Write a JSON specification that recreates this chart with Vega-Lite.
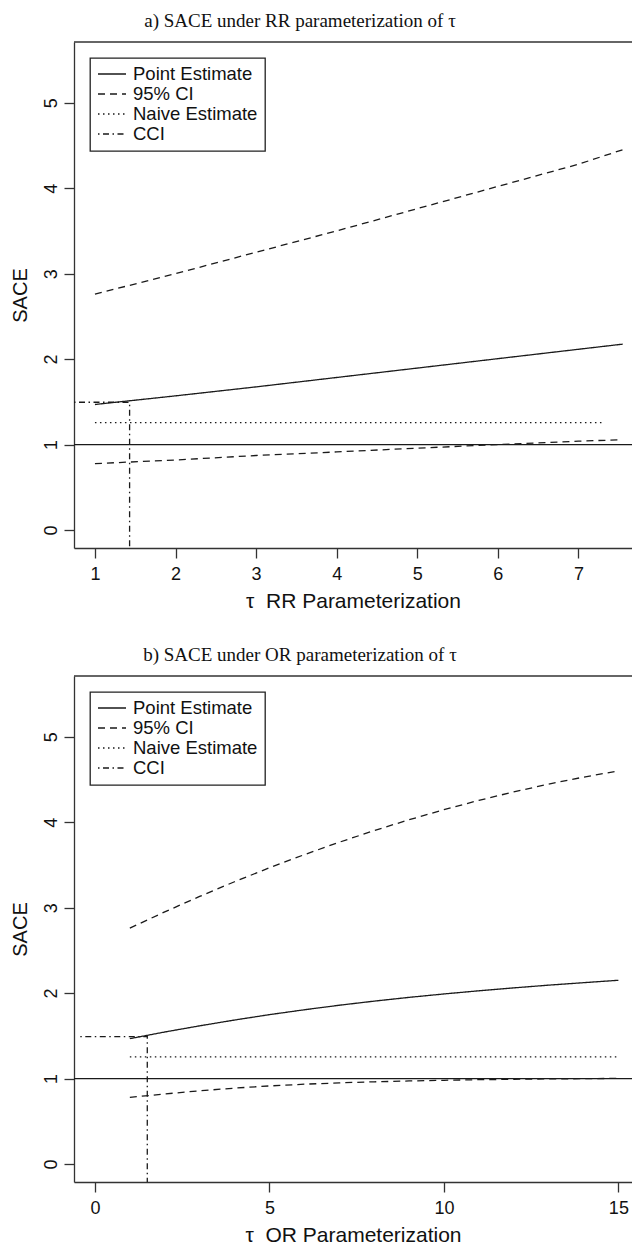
{
  "$schema": "https://vega.github.io/schema/vega-lite/v6.json",
  "padding": {"left": 10, "top": 12, "right": 0, "bottom": 0},
  "spacing": 35,
  "datasets": {
    "a": [
      {"series": "Point Estimate", "grp": "pt", "x": 1, "y": 1.469},
      {"series": "Point Estimate", "grp": "pt", "x": 2, "y": 1.570},
      {"series": "Point Estimate", "grp": "pt", "x": 3, "y": 1.675},
      {"series": "Point Estimate", "grp": "pt", "x": 4, "y": 1.785},
      {"series": "Point Estimate", "grp": "pt", "x": 5, "y": 1.895},
      {"series": "Point Estimate", "grp": "pt", "x": 6, "y": 2.005},
      {"series": "Point Estimate", "grp": "pt", "x": 7, "y": 2.115},
      {"series": "Point Estimate", "grp": "pt", "x": 7.55, "y": 2.175},
      {"series": "95% CI", "grp": "up", "x": 1, "y": 2.76},
      {"series": "95% CI", "grp": "up", "x": 2, "y": 3.0},
      {"series": "95% CI", "grp": "up", "x": 3, "y": 3.25},
      {"series": "95% CI", "grp": "up", "x": 4, "y": 3.5},
      {"series": "95% CI", "grp": "up", "x": 5, "y": 3.76},
      {"series": "95% CI", "grp": "up", "x": 6, "y": 4.02},
      {"series": "95% CI", "grp": "up", "x": 7, "y": 4.28},
      {"series": "95% CI", "grp": "up", "x": 7.55, "y": 4.45},
      {"series": "95% CI", "grp": "lo", "x": 1, "y": 0.777},
      {"series": "95% CI", "grp": "lo", "x": 2, "y": 0.82},
      {"series": "95% CI", "grp": "lo", "x": 3, "y": 0.872},
      {"series": "95% CI", "grp": "lo", "x": 4, "y": 0.914},
      {"series": "95% CI", "grp": "lo", "x": 5, "y": 0.958},
      {"series": "95% CI", "grp": "lo", "x": 6, "y": 1.0},
      {"series": "95% CI", "grp": "lo", "x": 7, "y": 1.04},
      {"series": "95% CI", "grp": "lo", "x": 7.5, "y": 1.055},
      {"series": "Naive Estimate", "grp": "nv", "x": 1, "y": 1.258},
      {"series": "Naive Estimate", "grp": "nv", "x": 7.31, "y": 1.258},
      {"series": "CCI", "grp": "cci", "x": 0.74, "y": 1.495},
      {"series": "CCI", "grp": "cci", "x": 1.43, "y": 1.495},
      {"series": "CCI", "grp": "cci", "x": 1.43, "y": -0.21}
    ],
    "b": [
      {"series": "Point Estimate", "grp": "pt", "x": 1, "y": 1.467},
      {"series": "Point Estimate", "grp": "pt", "x": 2, "y": 1.545},
      {"series": "Point Estimate", "grp": "pt", "x": 3, "y": 1.617},
      {"series": "Point Estimate", "grp": "pt", "x": 4, "y": 1.685},
      {"series": "Point Estimate", "grp": "pt", "x": 5, "y": 1.748},
      {"series": "Point Estimate", "grp": "pt", "x": 6, "y": 1.805},
      {"series": "Point Estimate", "grp": "pt", "x": 7, "y": 1.858},
      {"series": "Point Estimate", "grp": "pt", "x": 8, "y": 1.906},
      {"series": "Point Estimate", "grp": "pt", "x": 9, "y": 1.950},
      {"series": "Point Estimate", "grp": "pt", "x": 10, "y": 1.990},
      {"series": "Point Estimate", "grp": "pt", "x": 11, "y": 2.027},
      {"series": "Point Estimate", "grp": "pt", "x": 12, "y": 2.061},
      {"series": "Point Estimate", "grp": "pt", "x": 13, "y": 2.093},
      {"series": "Point Estimate", "grp": "pt", "x": 14, "y": 2.122},
      {"series": "Point Estimate", "grp": "pt", "x": 15, "y": 2.15},
      {"series": "95% CI", "grp": "up", "x": 1, "y": 2.76},
      {"series": "95% CI", "grp": "up", "x": 2, "y": 2.95},
      {"series": "95% CI", "grp": "up", "x": 3, "y": 3.131},
      {"series": "95% CI", "grp": "up", "x": 4, "y": 3.303},
      {"series": "95% CI", "grp": "up", "x": 5, "y": 3.466},
      {"series": "95% CI", "grp": "up", "x": 6, "y": 3.62},
      {"series": "95% CI", "grp": "up", "x": 7, "y": 3.765},
      {"series": "95% CI", "grp": "up", "x": 8, "y": 3.901},
      {"series": "95% CI", "grp": "up", "x": 9, "y": 4.028},
      {"series": "95% CI", "grp": "up", "x": 10, "y": 4.146},
      {"series": "95% CI", "grp": "up", "x": 11, "y": 4.255},
      {"series": "95% CI", "grp": "up", "x": 12, "y": 4.354},
      {"series": "95% CI", "grp": "up", "x": 13, "y": 4.445},
      {"series": "95% CI", "grp": "up", "x": 14, "y": 4.527},
      {"series": "95% CI", "grp": "up", "x": 15, "y": 4.60},
      {"series": "95% CI", "grp": "lo", "x": 1, "y": 0.78},
      {"series": "95% CI", "grp": "lo", "x": 2, "y": 0.82},
      {"series": "95% CI", "grp": "lo", "x": 3, "y": 0.857},
      {"series": "95% CI", "grp": "lo", "x": 4, "y": 0.888},
      {"series": "95% CI", "grp": "lo", "x": 5, "y": 0.914},
      {"series": "95% CI", "grp": "lo", "x": 6, "y": 0.934},
      {"series": "95% CI", "grp": "lo", "x": 7, "y": 0.95},
      {"series": "95% CI", "grp": "lo", "x": 8, "y": 0.962},
      {"series": "95% CI", "grp": "lo", "x": 9, "y": 0.972},
      {"series": "95% CI", "grp": "lo", "x": 10, "y": 0.98},
      {"series": "95% CI", "grp": "lo", "x": 11, "y": 0.987},
      {"series": "95% CI", "grp": "lo", "x": 12, "y": 0.992},
      {"series": "95% CI", "grp": "lo", "x": 13, "y": 0.996},
      {"series": "95% CI", "grp": "lo", "x": 14, "y": 0.999},
      {"series": "95% CI", "grp": "lo", "x": 15, "y": 1.002},
      {"series": "Naive Estimate", "grp": "nv", "x": 1, "y": 1.255},
      {"series": "Naive Estimate", "grp": "nv", "x": 15, "y": 1.255},
      {"series": "CCI", "grp": "cci", "x": -0.42, "y": 1.49},
      {"series": "CCI", "grp": "cci", "x": 1.5, "y": 1.49},
      {"series": "CCI", "grp": "cci", "x": 1.5, "y": -0.21}
    ]
  },
  "resolve": {
    "scale": {"x": "independent", "y": "independent", "strokeDash": "independent"},
    "axis": {"x": "independent", "y": "independent"},
    "legend": {"strokeDash": "independent"}
  },
  "vconcat": [
    {
      "width": 558,
      "height": 506,
      "title": {"text": "a) SACE under RR parameterization of τ"},
      "layer": [
        {
          "data": {"values": [{}]},
          "mark": {"type": "rule", "color": "#1a1a1a", "strokeWidth": 1.3},
          "encoding": {"y": {"datum": 1, "type": "quantitative"}}
        },
        {
          "data": {"values": [{}]},
          "mark": {"type": "rule", "color": "#333", "strokeWidth": 1.3},
          "encoding": {"y": {"datum": 5.71, "type": "quantitative"}}
        },
        {
          "data": {"name": "a"},
          "mark": {"type": "line", "color": "#1a1a1a", "strokeWidth": 1.3, "clip": true},
          "encoding": {
            "x": {"field": "x", "type": "quantitative", "title": "τ\u00a0 RR Parameterization",
                  "scale": {"domain": [0.74, 7.665], "nice": false, "zero": false},
                  "axis": {"values": [1, 2, 3, 4, 5, 6, 7], "format": "d"}},
            "y": {"field": "y", "type": "quantitative", "title": "SACE",
                  "scale": {"domain": [-0.21, 5.71], "nice": false, "zero": false},
                  "axis": {"values": [0, 1, 2, 3, 4, 5], "format": "d"}},
            "strokeDash": {"field": "series", "type": "nominal",
                  "scale": {"domain": ["Point Estimate", "95% CI", "Naive Estimate", "CCI"],
                            "range": [[1, 0], [7, 5], [1.5, 3.5], [1.5, 3.5, 6, 3.5]]},
                  "legend": {"title": null, "orient": "none", "legendX": 16, "legendY": 16}},
            "detail": {"field": "grp"},
            "order": [{"field": "x", "type": "quantitative", "sort": "ascending"},
                      {"field": "y", "type": "quantitative", "sort": "descending"}]
          }
        }
      ]
    },
    {
      "width": 558,
      "height": 506,
      "title": {"text": "b) SACE under OR parameterization of τ"},
      "layer": [
        {
          "data": {"values": [{}]},
          "mark": {"type": "rule", "color": "#1a1a1a", "strokeWidth": 1.3},
          "encoding": {"y": {"datum": 1, "type": "quantitative"}}
        },
        {
          "data": {"values": [{}]},
          "mark": {"type": "rule", "color": "#333", "strokeWidth": 1.3},
          "encoding": {"y": {"datum": 5.71, "type": "quantitative"}}
        },
        {
          "data": {"name": "b"},
          "mark": {"type": "line", "color": "#1a1a1a", "strokeWidth": 1.3, "clip": true},
          "encoding": {
            "x": {"field": "x", "type": "quantitative", "title": "τ\u00a0 OR Parameterization",
                  "scale": {"domain": [-0.6, 15.39], "nice": false, "zero": false},
                  "axis": {"values": [0, 5, 10, 15], "format": "d"}},
            "y": {"field": "y", "type": "quantitative", "title": "SACE",
                  "scale": {"domain": [-0.21, 5.71], "nice": false, "zero": false},
                  "axis": {"values": [0, 1, 2, 3, 4, 5], "format": "d"}},
            "strokeDash": {"field": "series", "type": "nominal",
                  "scale": {"domain": ["Point Estimate", "95% CI", "Naive Estimate", "CCI"],
                            "range": [[1, 0], [7, 5], [1.5, 3.5], [1.5, 3.5, 6, 3.5]]},
                  "legend": {"title": null, "orient": "none", "legendX": 16, "legendY": 16}},
            "detail": {"field": "grp"},
            "order": [{"field": "x", "type": "quantitative", "sort": "ascending"},
                      {"field": "y", "type": "quantitative", "sort": "descending"}]
          }
        }
      ]
    }
  ],
  "config": {
    "view": {"stroke": null},
    "title": {"font": "Liberation Serif", "fontSize": 19, "fontWeight": "normal", "color": "#111",
              "anchor": "middle", "dx": -53, "offset": 10},
    "axis": {"grid": false, "domainColor": "#333", "domainWidth": 1.3, "tickColor": "#333",
             "tickWidth": 1.3, "tickSize": 10, "labelFont": "Liberation Sans", "labelFontSize": 18,
             "labelColor": "#111", "titleFont": "Liberation Sans", "titleFontSize": 20,
             "titleFontWeight": "normal", "titleColor": "#111", "labelPadding": 4},
    "axisX": {"labelPadding": 7, "titlePadding": 7, "titleFontSize": 21},
    "axisY": {"labelAngle": 270, "labelAlign": "center", "labelBaseline": "bottom", "titlePadding": 12},
    "legend": {"strokeColor": "#222", "strokeWidth": 1.3, "padding": 7, "symbolType": "stroke",
               "symbolSize": 784, "symbolStrokeWidth": 1.3, "symbolStrokeColor": "#1a1a1a",
               "clipHeight": 18, "labelFont": "Liberation Sans", "labelFontSize": 18.5, "labelColor": "#111",
               "labelOffset": 6, "rowPadding": 1, "fillColor": "white"}
  }
}
